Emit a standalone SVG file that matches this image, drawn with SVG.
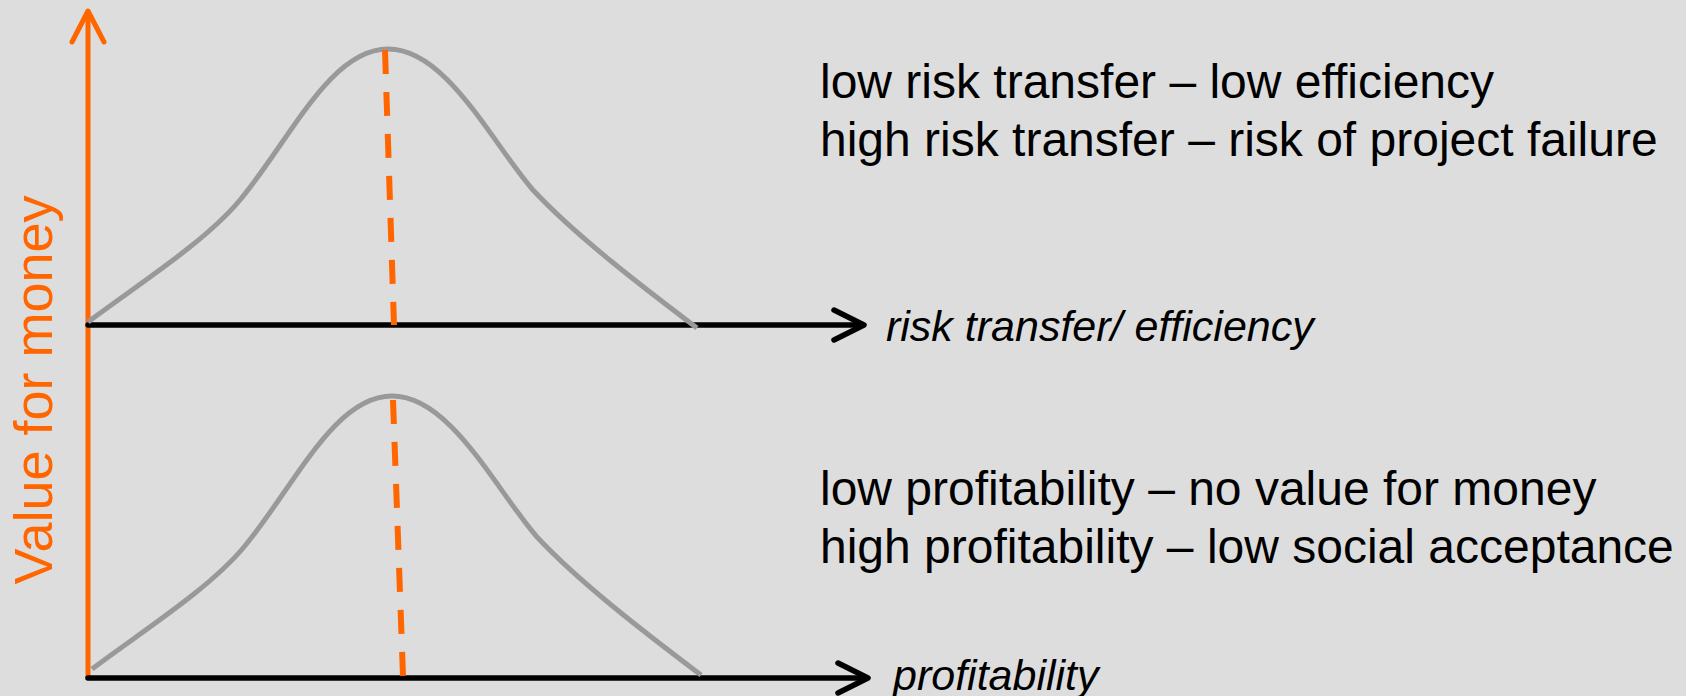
<svg xmlns="http://www.w3.org/2000/svg" width="1686" height="696" viewBox="0 0 1686 696">
  <style>
    .axis { fill: none; stroke: #000000; stroke-width: 5.5; stroke-linecap: round; stroke-linejoin: round; }
    .vaxis { fill: none; stroke: #FF6600; stroke-width: 5; stroke-linecap: round; stroke-linejoin: round; }
    .curve { fill: none; stroke: #999999; stroke-width: 5; }
    .peak { fill: none; stroke: #FF6600; stroke-width: 6; stroke-dasharray: 24 18; }
    .note { font-family: "Liberation Sans", Arial, sans-serif; font-size: 48px; fill: #000000; }
    .axislabel { font-family: "Liberation Sans", Arial, sans-serif; font-size: 43px; font-style: italic; fill: #000000; }
    .ylabel { font-family: "Liberation Sans", Arial, sans-serif; font-size: 54px; fill: #FF6600; }
  </style>
  <defs>
    <!-- bell-shaped value curve, reused for both panels -->
    <path id="bell" d="M88,322 C140,283 205,242 240,200 C290,140 330,49 388,49 C446,49 490,140 533,190 C575,235 640,285 697,328"/>
  </defs>
  <rect x="0" y="0" width="1686" height="696" fill="#DDDDDD"/>

  <g id="connectors">
    <!-- value-for-money axis -->
    <line class="vaxis" x1="88" y1="678" x2="88" y2="12"/>
    <polyline class="vaxis" points="72,42 88,11 104,42"/>
    <!-- upper horizontal axis -->
    <line class="axis" x1="88" y1="325" x2="862" y2="325"/>
    <polyline class="axis" points="834,310 864,325 834,340"/>
    <!-- lower horizontal axis -->
    <line class="axis" x1="88" y1="678" x2="866" y2="678"/>
    <polyline class="axis" points="838,663 868,678 838,693"/>
  </g>

  <g id="ylabel">
    <text class="ylabel" transform="translate(52,390) rotate(-90)" text-anchor="middle">Value for money</text>
  </g>

  <g id="curve-risk">
    <use href="#bell" class="curve"/>
    <line class="peak" x1="385" y1="50" x2="394" y2="325"/>
  </g>

  <g id="curve-profit">
    <use href="#bell" class="curve" transform="translate(4,347)"/>
    <line class="peak" x1="393" y1="400" x2="403" y2="676"/>
  </g>

  <g id="label-risk">
    <text class="axislabel" x="886" y="341">risk transfer/ efficiency</text>
  </g>

  <g id="label-profit">
    <text class="axislabel" x="893" y="690">profitability</text>
  </g>

  <g id="notes-risk">
    <text class="note" x="820" y="98">low risk transfer – low efficiency</text>
    <text class="note" x="820" y="156">high risk transfer – risk of project failure</text>
  </g>

  <g id="notes-profit">
    <text class="note" x="820" y="505">low profitability – no value for money</text>
    <text class="note" x="820" y="563">high profitability – low social acceptance</text>
  </g>
</svg>
